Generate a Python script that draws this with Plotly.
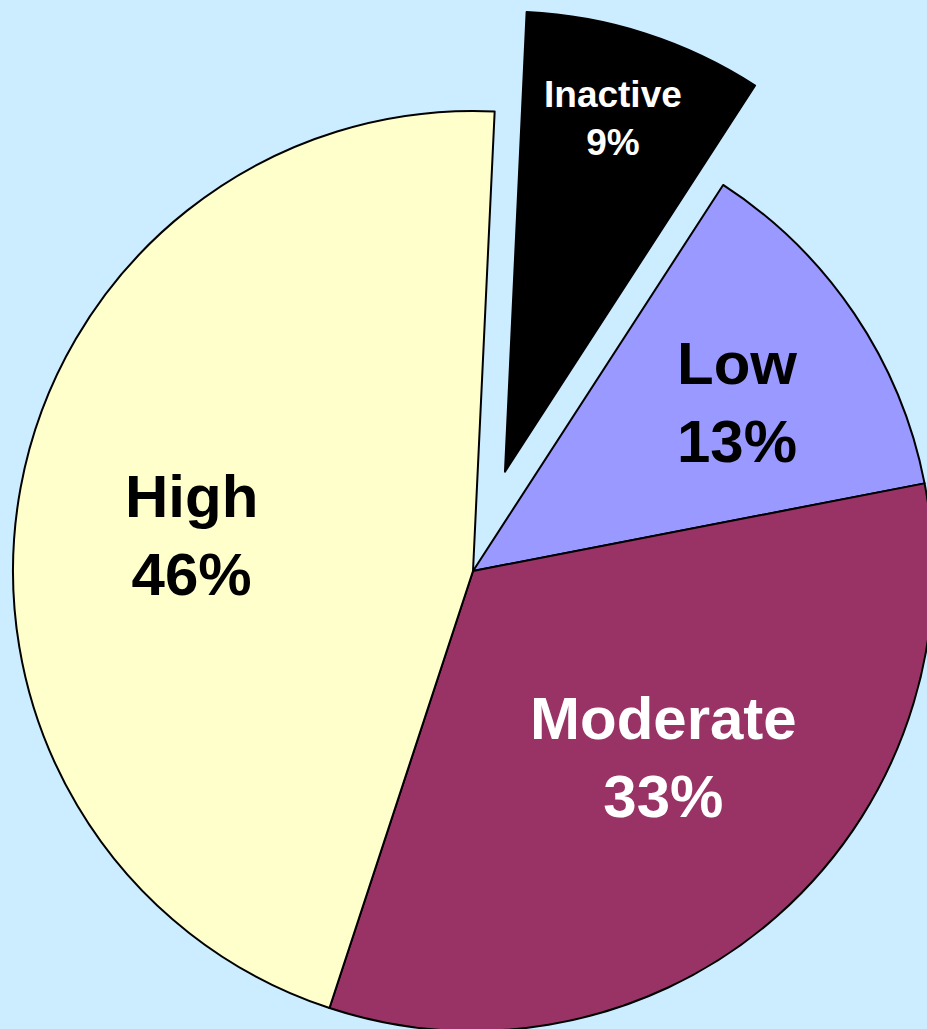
import math
import plotly.graph_objects as go

# ---- data ----
labels = ["Inactive", "Low", "Moderate", "High"]
values = [8.4, 12.8, 33.1, 45.7]          # slice sizes
shown_pct = [9, 13, 33, 46]               # percentages printed on the chart
colors = ["#000000", "#9999FF", "#993366", "#FFFFCC"]
text_colors = ["#FFFFFF", "#000000", "#FFFFFF", "#000000"]
text_sizes = [37, 60, 60, 60]
pulled_label = "Inactive"

# label centres (pixels from the top-left of the page)
label_px = [(613, 118), (737, 403), (663, 757), (191, 535)]

# ---- layout geometry ----
W, H = 1000, 1100          # figure larger than the window; the window shows the top-left part
CX, CY, R = 473, 571, 460  # pie centre and radius in pixels
PULL = 0.227               # pull of the exploded slice (fraction of radius)
START = 2.7                # rotation (degrees clockwise from 12 o'clock)
BG = "#CCECFF"
TRANSPARENT = "rgba(0,0,0,0)"
FONT = "Liberation Sans, Arial, sans-serif"

texts = [f"{l}<br>{p}%" for l, p in zip(labels, shown_pct)]
ip = labels.index(pulled_label)
total = sum(values)
mid = START + (sum(values[:ip]) + values[ip] / 2) / total * 360
dx = PULL * R * math.sin(math.radians(mid))
dy = -PULL * R * math.cos(math.radians(mid))


def domain(cx, cy):
    return dict(x=[(cx - R) / W, (cx + R) / W],
                y=[(H - (cy + R)) / H, (H - (cy - R)) / H])


main_colors = [TRANSPARENT if i == ip else c for i, c in enumerate(colors)]
main_lines = [TRANSPARENT if i == ip else "#000000" for i in range(len(labels))]
pull_colors = [c if i == ip else TRANSPARENT for i, c in enumerate(colors)]
pull_lines = ["#000000" if i == ip else TRANSPARENT for i in range(len(labels))]

common = dict(labels=labels, values=values, sort=False, direction="clockwise",
              rotation=START, textinfo="none", showlegend=False,
              hoverinfo="label+percent")

fig = go.Figure()
fig.add_trace(go.Pie(
    **common,
    marker=dict(colors=main_colors, line=dict(color=main_lines, width=2)),
    domain=domain(CX, CY),
))
fig.add_trace(go.Pie(
    **common,
    marker=dict(colors=pull_colors, line=dict(color=pull_lines, width=2)),
    domain=domain(CX + dx, CY + dy),
))

for t, (px, py), c, s in zip(texts, label_px, text_colors, text_sizes):
    fig.add_annotation(
        text=t, x=px / W, y=(H - py) / H, xref="paper", yref="paper",
        xanchor="center", yanchor="middle", showarrow=False, align="center",
        font=dict(family=FONT, size=s, color=c, weight="bold"),
    )

fig.update_layout(
    width=W, height=H, autosize=False,
    margin=dict(l=0, r=0, t=0, b=0, pad=0),
    paper_bgcolor=BG, plot_bgcolor=BG,
)

fig.write_html("out.html",
               post_script="document.body.style.margin='0';"
                           "document.body.style.overflow='hidden';"
                           "document.body.style.background='" + BG + "';")
